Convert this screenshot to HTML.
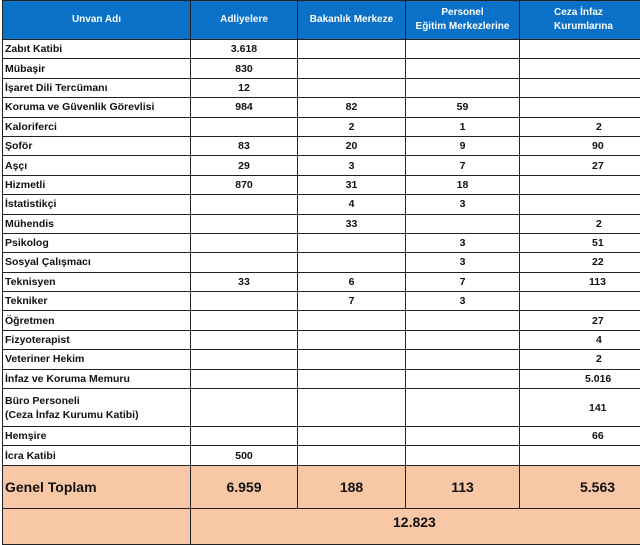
<!DOCTYPE html>
<html><head><meta charset="utf-8"><style>
html,body{margin:0;padding:0;background:#fff;}
body{width:640px;height:527px;overflow:hidden;position:relative;}
table{position:absolute;left:2px;top:0;border-collapse:collapse;font-family:"Liberation Sans",sans-serif;font-weight:bold;font-size:10.5px;color:#111;table-layout:fixed;width:660px;}
td,th{border:1.3px solid #222;padding:0 2px;height:18.4px;white-space:nowrap;overflow:hidden;}
th{background:#0a70c8;color:#fff;font-size:10px;height:38px;line-height:14px;}
td{text-align:center;}
td:first-child{text-align:left;}
tr.tot td{background:#f8c7a6;font-size:14px;height:42px;}
tr.tot2 td{background:#f8c7a6;font-size:14px;height:30px;vertical-align:top;padding-top:5px;}
</style></head><body>
<table>
<colgroup><col style="width:188px"><col style="width:107px"><col style="width:108px"><col style="width:114px"><col style="width:143px"></colgroup>
<tr><th>Unvan Adı</th><th>Adliyelere</th><th>Bakanlık Merkeze</th><th>Personel<br>Eğitim Merkezlerine</th><th style="text-align:left;padding-left:34px">Ceza İnfaz<br>Kurumlarına</th></tr>
<tr><td>Zabıt Katibi</td><td>3.618</td><td></td><td></td><td></td></tr>
<tr><td>Mübaşir</td><td>830</td><td></td><td></td><td></td></tr>
<tr><td>İşaret Dili Tercümanı</td><td>12</td><td></td><td></td><td></td></tr>
<tr><td>Koruma ve Güvenlik Görevlisi</td><td>984</td><td>82</td><td>59</td><td></td></tr>
<tr><td>Kaloriferci</td><td></td><td>2</td><td>1</td><td style="text-align:left;padding-left:76px">2</td></tr>
<tr><td>Şoför</td><td>83</td><td>20</td><td>9</td><td style="text-align:left;padding-left:72px">90</td></tr>
<tr><td>Aşçı</td><td>29</td><td>3</td><td>7</td><td style="text-align:left;padding-left:72px">27</td></tr>
<tr><td>Hizmetli</td><td>870</td><td>31</td><td>18</td><td></td></tr>
<tr><td>İstatistikçi</td><td></td><td>4</td><td>3</td><td></td></tr>
<tr><td>Mühendis</td><td></td><td>33</td><td></td><td style="text-align:left;padding-left:76px">2</td></tr>
<tr><td>Psikolog</td><td></td><td></td><td>3</td><td style="text-align:left;padding-left:72px">51</td></tr>
<tr><td>Sosyal Çalışmacı</td><td></td><td></td><td>3</td><td style="text-align:left;padding-left:72px">22</td></tr>
<tr><td>Teknisyen</td><td>33</td><td>6</td><td>7</td><td style="text-align:left;padding-left:69px">113</td></tr>
<tr><td>Tekniker</td><td></td><td>7</td><td>3</td><td></td></tr>
<tr><td>Öğretmen</td><td></td><td></td><td></td><td style="text-align:left;padding-left:72px">27</td></tr>
<tr><td>Fizyoterapist</td><td></td><td></td><td></td><td style="text-align:left;padding-left:76px">4</td></tr>
<tr><td>Veteriner Hekim</td><td></td><td></td><td></td><td style="text-align:left;padding-left:76px">2</td></tr>
<tr><td>İnfaz ve Koruma Memuru</td><td></td><td></td><td></td><td style="text-align:left;padding-left:65px">5.016</td></tr>
<tr><td style="height:37px;line-height:14px">Büro Personeli<br>(Ceza İnfaz Kurumu Katibi)</td><td></td><td></td><td></td><td style="text-align:left;padding-left:69px">141</td></tr>
<tr><td>Hemşire</td><td></td><td></td><td></td><td style="text-align:left;padding-left:72px">66</td></tr>
<tr><td>İcra Katibi</td><td>500</td><td></td><td></td><td></td></tr>
<tr class="tot"><td>Genel Toplam</td><td>6.959</td><td>188</td><td>113</td><td style="text-align:left;padding-left:60px">5.563</td></tr>
<tr class="tot2"><td></td><td colspan="4" style="text-align:left;padding-left:202px">12.823</td></tr>
</table>
</body></html>
